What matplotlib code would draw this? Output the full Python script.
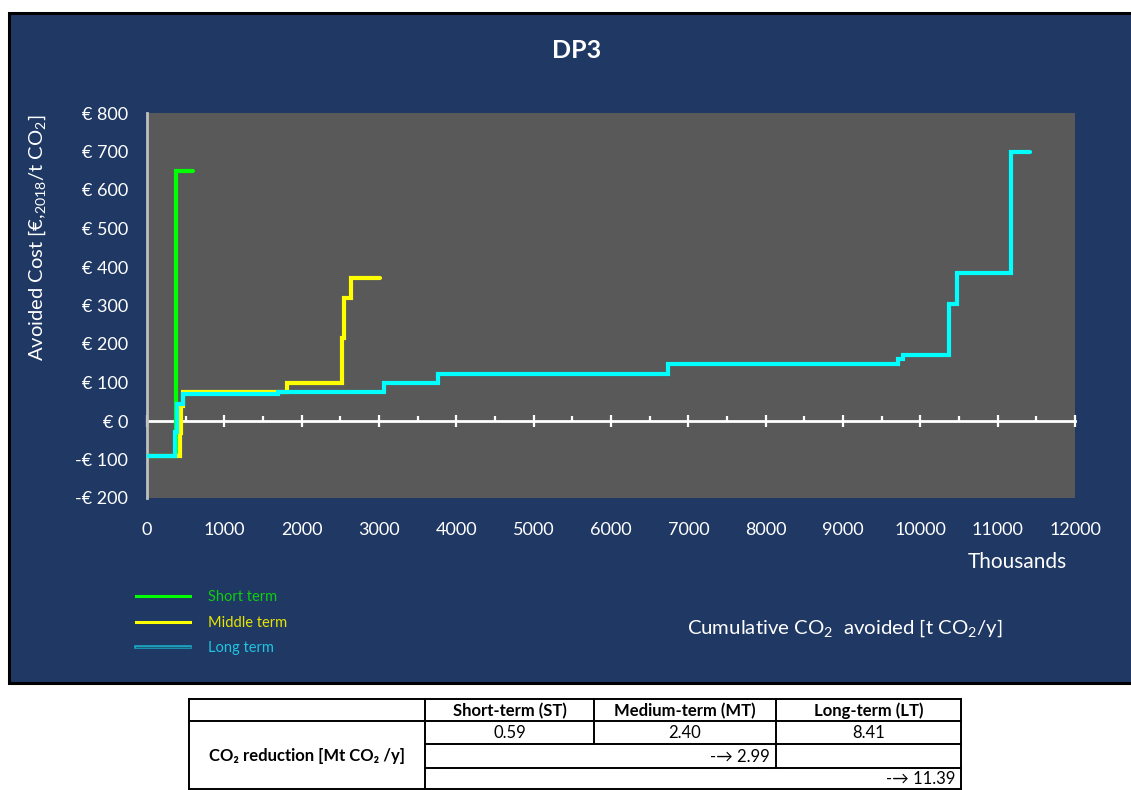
import matplotlib
matplotlib.use("Agg")
import matplotlib.pyplot as plt
import matplotlib.patheffects as pe
from matplotlib.lines import Line2D
from matplotlib.patches import Rectangle
from matplotlib.ticker import MultipleLocator, FixedLocator, FuncFormatter

plt.rcParams['font.family'] = ['Lato', 'DejaVu Sans']
plt.rcParams['mathtext.fontset'] = 'custom'
plt.rcParams['mathtext.rm'] = 'Lato'
plt.rcParams['mathtext.it'] = 'Lato:italic'
plt.rcParams['mathtext.bf'] = 'Lato:bold'

# ---------------- data ----------------
# cumulative CO2 avoided (thousand t CO2/y) at step starts, plus end point
short_x = [0, 375, 590]
short_y = [-90, 650, 650]

middle_x = [0, 425, 445, 460, 1810, 2520, 2550, 2640, 3010]
middle_y = [-90, -30, 40, 75, 100, 215, 320, 372, 372]

long_x = [0, 362, 384, 460, 1695, 3070, 3760, 6740, 9710, 9770, 10375, 10470, 11170, 11420]
long_y = [-90, -28, 44, 70, 75, 98, 123, 148, 160, 172, 305, 385, 700, 700]

x_ticks = list(range(0, 12001, 1000))

series_labels = ["Short term", "Middle term", "Long term"]
series_colors = ["#00FF00", "#FFFF00", "#00FFFF"]

table_header = ["Short-term (ST)", "Medium-term (MT)", "Long-term (LT)"]
table_row_label = "CO₂ reduction [Mt CO₂ /y]"
table_values = ["0.59", "2.40", "8.41"]
table_cum_mt = "-→ 2.99"
table_cum_lt = "-→ 11.39"

# ---------------- figure ----------------
W, H = 1131, 790
fig = plt.figure(figsize=(W / 100, H / 100), dpi=100, facecolor="white")

BLUE = "#1F3864"
fig.patches.append(Rectangle((9 / W, 1 - 683 / H), (W + 5 - 9) / W, (683 - 13) / H,
                             transform=fig.transFigure, facecolor=BLUE,
                             edgecolor="black", linewidth=2.2, zorder=-5))

ax = fig.add_axes([147 / W, 1 - 498 / H, (1075 - 147) / W, (498 - 113) / H])
ax.set_facecolor("#595959")
ax.set_xlim(0, 12000)
ax.set_ylim(-200, 800)

lw = 3.0
for xs, ys, c in [(short_x, short_y, series_colors[0]),
                  (middle_x, middle_y, series_colors[1]),
                  (long_x, long_y, series_colors[2])]:
    ax.step(xs, ys, where="post", color=c, lw=lw, solid_capstyle="round",
            solid_joinstyle="miter", zorder=3)

for s in ["top", "right"]:
    ax.spines[s].set_visible(False)
ax.spines["left"].set_color("#BFBFBF")
ax.spines["left"].set_linewidth(2)
ax.spines["bottom"].set_position(("data", 0))
ax.spines["bottom"].set_color("white")
ax.spines["bottom"].set_linewidth(2)
ax.spines["bottom"].set_zorder(2)

ax.xaxis.set_major_locator(FixedLocator(x_ticks))
ax.xaxis.set_minor_locator(MultipleLocator(500))
ax.tick_params(axis="x", which="major", direction="inout", length=8, width=1.6,
               color="white", labelbottom=False)
ax.tick_params(axis="x", which="minor", direction="in", length=3.5, width=1.6,
               color="white")

ax.yaxis.set_major_locator(MultipleLocator(100))
ax.yaxis.set_major_formatter(FuncFormatter(
    lambda v, p: ("-€ %d" % abs(v)) if v < 0 else ("€ %d" % v)))
ax.tick_params(axis="y", length=0, pad=13.5, labelcolor="white", labelsize=13)

sec = ax.secondary_xaxis("bottom")
sec.xaxis.set_major_locator(FixedLocator(x_ticks))
sec.xaxis.set_minor_locator(FixedLocator([]))
sec.xaxis.set_major_formatter(FuncFormatter(lambda v, p: "%d" % v))
for s in sec.spines.values():
    s.set_visible(False)
sec.tick_params(axis="x", which="both", length=0, pad=17, labelcolor="white",
                labelsize=13)

ax.set_ylabel("Avoided Cost [€,$_{2018}$/t CO$_2$]", color="white", fontsize=14.5)
ax.yaxis.set_label_coords(-(147 - 48) / (1075 - 147), (498 - 238) / (498 - 113))

fig.text(1017 / W, 1 - 562 / H, "Thousands", color="white", fontsize=15,
         ha="center", va="center")
fig.text(845 / W, 1 - 628 / H, "Cumulative CO$_2$  avoided [t CO$_2$/y]",
         color="white", fontsize=14.7, ha="center", va="center")
fig.text(577 / W, 1 - 50 / H, "DP3", color="white", fontsize=18,
         fontweight="bold", ha="center", va="center")

# legend
handles = [
    Line2D([], [], color=series_colors[0], lw=2.2),
    Line2D([], [], color=series_colors[1], lw=2.2),
    Line2D([], [], color="#1AA9C4", lw=2.6,
           path_effects=[pe.Stroke(linewidth=2.6, foreground="#1AA9C4"),
                         pe.Stroke(linewidth=0.8, foreground="#1E5A7A"),
                         ]),
]
leg = fig.legend(handles, series_labels, loc="upper left",
                 bbox_to_anchor=(123 / W, 1 - 577 / H), frameon=False,
                 fontsize=10.5, handlelength=3.7, handletextpad=1.2,
                 labelspacing=0.8,
                 labelcolor=["#11CC11", "#E6E600", "#21C4E0"])

# ---------------- table ----------------
tax = fig.add_axes([0, 0, 1, 1], facecolor="none")
tax.set_xlim(0, W)
tax.set_ylim(H, 0)
tax.axis("off")
cols = [189, 425, 594, 776, 961]
rows = [699, 721, 744, 768, 789]
lk = dict(color="black", lw=1.4, solid_capstyle="projecting")
tax.plot([cols[0], cols[-1]], [rows[0], rows[0]], **lk)
tax.plot([cols[0], cols[-1]], [rows[1], rows[1]], **lk)
tax.plot([cols[1], cols[-1]], [rows[2], rows[2]], **lk)
tax.plot([cols[1], cols[-1]], [rows[3], rows[3]], **lk)
tax.plot([cols[0], cols[-1]], [rows[4], rows[4]], **lk)
tax.plot([cols[0], cols[0]], [rows[0], rows[4]], **lk)
tax.plot([cols[1], cols[1]], [rows[0], rows[4]], **lk)
tax.plot([cols[2], cols[2]], [rows[0], rows[2]], **lk)
tax.plot([cols[3], cols[3]], [rows[0], rows[3]], **lk)
tax.plot([cols[4], cols[4]], [rows[0], rows[4]], **lk)

fs_t = 12
for i, h in enumerate(table_header):
    tax.text((cols[i + 1] + cols[i + 2]) / 2, (rows[0] + rows[1]) / 2 + 1, h,
             ha="center", va="center", fontsize=fs_t, fontweight="bold")
    tax.text((cols[i + 1] + cols[i + 2]) / 2, (rows[1] + rows[2]) / 2 + 1,
             table_values[i], ha="center", va="center", fontsize=fs_t)
tax.text((cols[0] + cols[1]) / 2, (rows[1] + rows[4]) / 2 + 1, table_row_label,
         ha="center", va="center", fontsize=fs_t, fontweight="bold")
tax.text(cols[3] - 6, (rows[2] + rows[3]) / 2 + 1, table_cum_mt,
         ha="right", va="center", fontsize=fs_t)
tax.text(cols[4] - 6, (rows[3] + rows[4]) / 2 + 1, table_cum_lt,
         ha="right", va="center", fontsize=fs_t)

fig.savefig("out.png", dpi=100, facecolor="white")
